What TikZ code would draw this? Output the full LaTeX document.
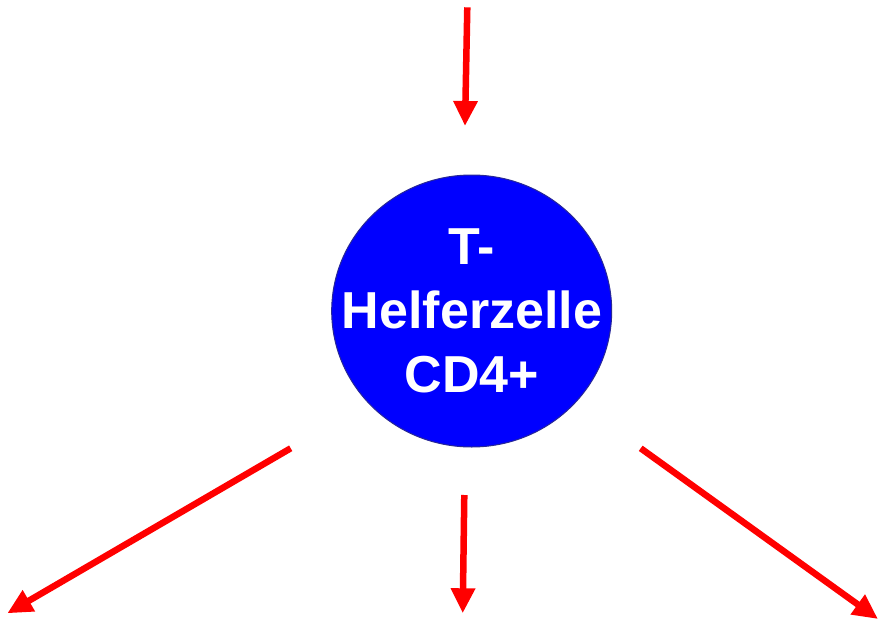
\documentclass[tikz,border=0pt]{standalone}
\usepackage{fontspec}
\setmainfont{Liberation Sans}
\usetikzlibrary{arrows.meta,shapes.geometric}
\definecolor{cellblue}{RGB}{0,0,255}
\definecolor{celledge}{RGB}{40,40,150}
\definecolor{arrowred}{RGB}{255,0,0}
\tikzset{
  redarrow/.style={draw=arrowred, line width=6.5pt,
    -{Triangle[width=23pt,length=25pt]}},
  cellshape/.style={ellipse, fill=cellblue, draw=celledge, line width=1pt,
    minimum width=280pt, minimum height=272pt, inner sep=0pt},
  celltext/.style={text=white, font=\bfseries\fontsize{52}{64}\selectfont,
    align=center, inner sep=0pt}
}
\begin{document}
\begin{tikzpicture}[x=1pt,y=1pt]
\useasboundingbox (0,0) rectangle (884,-621);
\node[cellshape] (cell) at (471.7,-311) {};
\node[celltext] (label) at (472,-311) {T-\\Helferzelle\\CD4+};
\coordinate (topS) at (467.3,-7.3);
\coordinate (topE) at (465,-126);
\coordinate (blS) at (290.7,-448.3);
\coordinate (blE) at (7.3,-613.3);
\coordinate (bmS) at (464.3,-495);
\coordinate (bmE) at (462.7,-613.3);
\coordinate (brS) at (640.7,-448.3);
\coordinate (brE) at (878,-619);
\draw[redarrow] (topS) -- (topE);
\draw[redarrow] (blS) -- (blE);
\draw[redarrow] (bmS) -- (bmE);
\draw[redarrow] (brS) -- (brE);
\end{tikzpicture}
\end{document}
